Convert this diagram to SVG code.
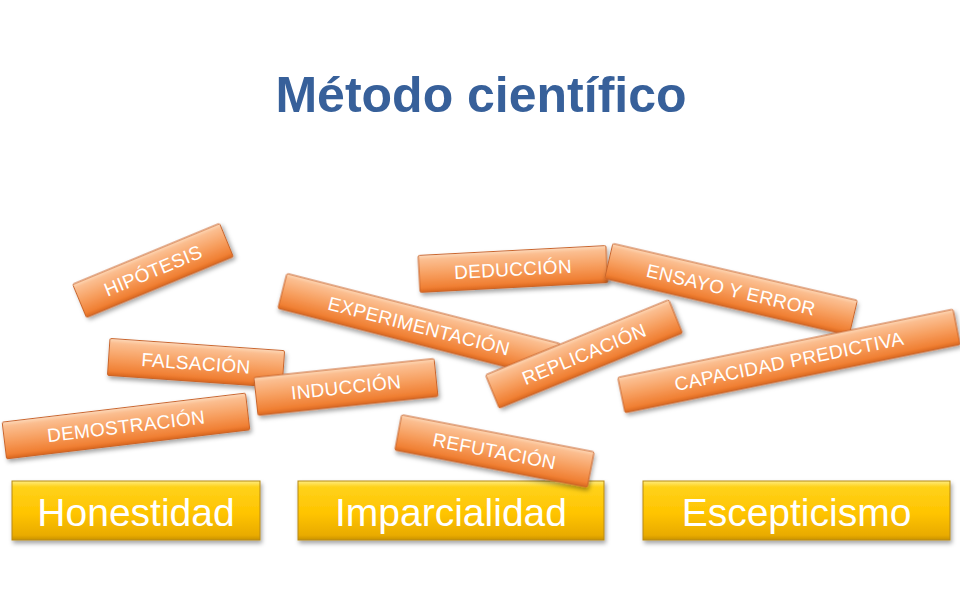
<svg xmlns="http://www.w3.org/2000/svg" width="960" height="600" viewBox="0 0 960 600">
<defs>
<linearGradient id="og" x1="0" y1="0" x2="0" y2="1">
<stop offset="0" stop-color="#FDD9B9"/>
<stop offset="0.12" stop-color="#FBBE90"/>
<stop offset="0.5" stop-color="#F7A061"/>
<stop offset="0.88" stop-color="#F07F33"/>
<stop offset="1" stop-color="#D8661F"/>
</linearGradient>
<linearGradient id="yg" x1="0" y1="0" x2="0" y2="1">
<stop offset="0" stop-color="#FFEC80"/>
<stop offset="0.1" stop-color="#FFD21A"/>
<stop offset="0.55" stop-color="#FFC400"/>
<stop offset="0.92" stop-color="#E9AB00"/>
<stop offset="1" stop-color="#C99200"/>
</linearGradient>
<filter id="sh" x="-10%" y="-30%" width="120%" height="170%">
<feDropShadow dx="1.5" dy="3" stdDeviation="2" flood-color="#000" flood-opacity="0.35"/>
</filter>
<style>
.ob{fill:url(#og);stroke:#C9652A;stroke-width:1;filter:url(#sh)}
.yb{fill:url(#yg);stroke:#B88A10;stroke-width:1;filter:url(#sh)}
.ot{font-family:"Liberation Sans",Arial,sans-serif;font-size:19px;fill:#fff;text-anchor:middle;letter-spacing:0.3px}
.yt{font-family:"Liberation Sans",Arial,sans-serif;font-size:39px;fill:#fff;text-anchor:middle}
.title{font-family:"Liberation Sans",Arial,sans-serif;font-size:50px;font-weight:bold;fill:#37609A;text-anchor:middle}
</style>
</defs>
<rect width="960" height="600" fill="#fff"/>
<g id="title"><text class="title" x="481" y="112">Método científico</text></g>

<g id="honestidad"><rect class="yb" x="12" y="481" width="248" height="59"/><text class="yt" x="136" y="526">Honestidad</text></g>
<g id="imparcialidad"><rect class="yb" x="298" y="481" width="306" height="59"/><text class="yt" x="451" y="526">Imparcialidad</text></g>
<g id="escepticismo"><rect class="yb" x="643" y="481" width="307" height="59"/><text class="yt" x="796.5" y="526">Escepticismo</text></g>

<g id="hipotesis" transform="translate(153,270.5) rotate(-22.5)"><rect class="ob" x="-79.5" y="-18" width="159" height="36" rx="1.5"/><text class="ot" x="0" y="6.8">HIPÓTESIS</text></g>
<g id="falsacion" transform="translate(196,363) rotate(4)"><rect class="ob" x="-87.5" y="-18.5" width="175" height="37" rx="1.5"/><text class="ot" x="0" y="6.8">FALSACIÓN</text></g>
<g id="demostracion" transform="translate(126,426) rotate(-6.8)"><rect class="ob" x="-122.5" y="-18.5" width="245" height="37" rx="1.5"/><text class="ot" x="0" y="6.8">DEMOSTRACIÓN</text></g>
<g id="induccion" transform="translate(346,387) rotate(-6)"><rect class="ob" x="-90.5" y="-19" width="181" height="38" rx="1.5"/><text class="ot" x="0" y="6.8">INDUCCIÓN</text></g>
<g id="experimentacion" transform="translate(419,326) rotate(14.4)"><rect class="ob" x="-141" y="-18" width="282" height="36" rx="1.5"/><text class="ot" x="0" y="6.8">EXPERIMENTACIÓN</text></g>
<g id="deduccion" transform="translate(513,269) rotate(-3)"><rect class="ob" x="-94" y="-18.5" width="188" height="37" rx="1.5"/><text class="ot" x="0" y="6.8">DEDUCCIÓN</text></g>
<g id="ensayo" transform="translate(731,289.5) rotate(13.1)"><rect class="ob" x="-125.5" y="-18" width="251" height="36" rx="1.5"/><text class="ot" x="0" y="6.8">ENSAYO Y ERROR</text></g>
<g id="replicacion" transform="translate(584,354) rotate(-22.3)"><rect class="ob" x="-99" y="-18" width="198" height="36" rx="1.5"/><text class="ot" x="0" y="6.8">REPLICACIÓN</text></g>
<g id="capacidad" transform="translate(789,361) rotate(-11.5)"><rect class="ob" x="-171" y="-18" width="342" height="36" rx="1.5"/><text class="ot" x="0" y="6.8">CAPACIDAD PREDICTIVA</text></g>
<g id="refutacion" transform="translate(494.5,451) rotate(10.9)"><rect class="ob" x="-98" y="-18" width="196" height="36" rx="1.5"/><text class="ot" x="0" y="6.8">REFUTACIÓN</text></g>

<g id="connectors"></g>
</svg>
